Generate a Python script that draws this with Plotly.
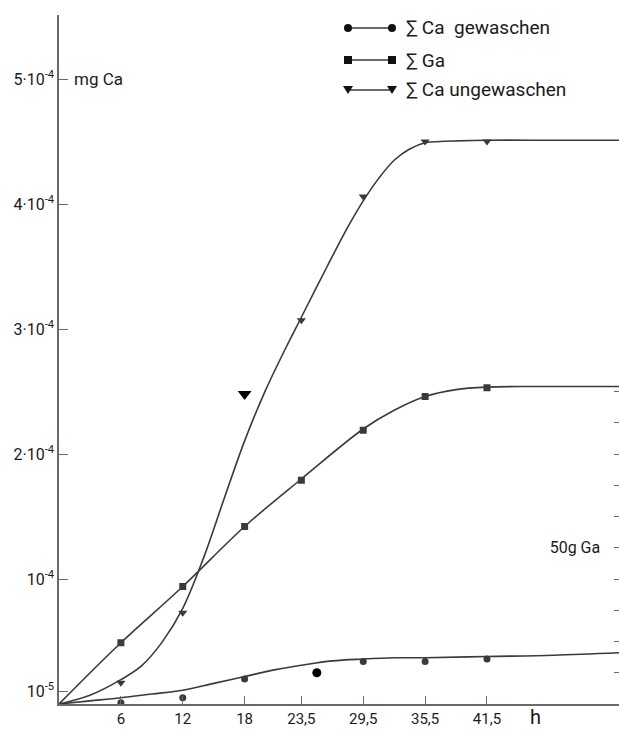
import plotly.graph_objects as go

# ---------------- data ----------------
hours = [6, 12, 18, 23.5, 29.5, 35.5, 41.5]
hour_labels = ["6", "12", "18", "23,5", "29,5", "35,5", "41,5"]

# measured points (mg Ca)
washed_hours = [6, 12, 18, 29.5, 35.5, 41.5]
washed_values = [0.01e-4, 0.05e-4, 0.20e-4, 0.34e-4, 0.34e-4, 0.36e-4]
washed_outlier_hour = [25]
washed_outlier_value = [0.25e-4]

ga_hours = [6, 12, 18, 23.5, 29.5, 35.5, 41.5]
ga_values = [0.49e-4, 0.94e-4, 1.42e-4, 1.79e-4, 2.19e-4, 2.46e-4, 2.53e-4]

unwashed_hours = [6, 12, 23.5, 29.5, 35.5, 41.5]
unwashed_values = [0.17e-4, 0.73e-4, 3.07e-4, 4.06e-4, 4.50e-4, 4.50e-4]
unwashed_outlier_hour = [18]
unwashed_outlier_value = [2.48e-4]

# drawn smooth curves
fit_w_hours = [0, 3, 6, 9, 12, 15, 18, 21, 23.5, 26.5, 29.5, 32.5, 35.5, 41.5, 48, 54.3]
fit_washed = [0, 0.025e-4, 0.05e-4, 0.08e-4, 0.11e-4, 0.165e-4, 0.22e-4, 0.275e-4,
              0.31e-4, 0.345e-4, 0.36e-4, 0.37e-4, 0.37e-4, 0.38e-4, 0.39e-4, 0.41e-4]

fit_g_hours = [0, 6, 12, 18, 23.5, 29.5, 32.5, 35.5, 38.5, 41.5, 46, 54.3]
fit_ga = [0, 0.49e-4, 0.94e-4, 1.42e-4, 1.80e-4, 2.20e-4, 2.35e-4, 2.46e-4,
          2.515e-4, 2.535e-4, 2.54e-4, 2.54e-4]

fit_u_hours = [0, 3, 6, 8, 10, 12, 14, 16, 18, 20, 22, 23.5, 26, 28, 29.5,
               31, 32.5, 34, 35.5, 37, 41.5, 48, 54.3]
fit_unwashed = [0, 0.07e-4, 0.195e-4, 0.305e-4, 0.495e-4, 0.765e-4, 1.165e-4, 1.64e-4,
                2.105e-4, 2.505e-4, 2.85e-4, 3.094e-4, 3.50e-4, 3.815e-4, 4.025e-4,
                4.205e-4, 4.35e-4, 4.44e-4, 4.49e-4, 4.50e-4, 4.51e-4, 4.51e-4, 4.51e-4]

y_tickvals = [1e-5, 1e-4, 2e-4, 3e-4, 4e-4, 5e-4]
y_ticktext = ["10<sup>-5</sup>", "10<sup>-4</sup>", "2·10<sup>-4</sup>",
              "3·10<sup>-4</sup>", "4·10<sup>-4</sup>", "5·10<sup>-4</sup>"]

ga_axis_ticks = [10, 20, 30, 40, 50, 60, 70, 80, 90, 100]
ga_axis_labels = ["", "", "", "", "50g Ga", "", "", "", "", ""]

legend_labels = ["∑ Ca  gewaschen", "∑ Ga", "∑ Ca ungewaschen"]

# ---------------- figure ----------------
W, H = 619, 729
ML, MR, MT, MB = 59, 0, 15, 25
PW, PH = W - ML - MR, H - MT - MB
FONT = "Roboto, 'DejaVu Sans', sans-serif"
LINE = "#3a3a3a"
MARK = "#3a3a3a"
AX = "#6a6a6a"

YMAX = PH / 125 * 1e-4      # 125 px per 1e-4
XMAX = PW / 10.313          # px per hour

fig = go.Figure()

for fx, fy in ((fit_w_hours, fit_washed), (fit_g_hours, fit_ga), (fit_u_hours, fit_unwashed)):
    fig.add_trace(go.Scatter(x=fx, y=fy, mode="lines",
                             line=dict(color=LINE, width=1.6, shape="spline", smoothing=1.0),
                             hoverinfo="skip", showlegend=False))

fig.add_trace(go.Scatter(x=washed_hours, y=washed_values, mode="markers",
                         marker=dict(symbol="circle", size=7, color=MARK), showlegend=False))
fig.add_trace(go.Scatter(x=washed_outlier_hour, y=washed_outlier_value, mode="markers",
                         marker=dict(symbol="circle", size=9, color="#000"), showlegend=False))
fig.add_trace(go.Scatter(x=ga_hours, y=ga_values, mode="markers",
                         marker=dict(symbol="square", size=7, color=MARK), showlegend=False))
fig.add_trace(go.Scatter(x=unwashed_hours, y=unwashed_values, mode="markers",
                         marker=dict(symbol="triangle-down", size=8, color=MARK), showlegend=False))
fig.add_trace(go.Scatter(x=unwashed_outlier_hour, y=unwashed_outlier_value, mode="markers",
                         marker=dict(symbol="triangle-down", size=12, color="#000"), showlegend=False))
# secondary axis carrier (invisible)
fig.add_trace(go.Scatter(x=[None], y=[None], yaxis="y2", showlegend=False))


def pxx(px):
    return (px - ML) / PW


def pxy(py):
    return (H - MB - py) / PH


shapes = []
annotations = []
rows = [28, 60, 90]
symbols = ["circle", "square", "triangle"]
for py, sym, lab in zip(rows, symbols, legend_labels):
    shapes.append(dict(type="line", xref="paper", yref="paper",
                       x0=pxx(348), x1=pxx(392), y0=pxy(py), y1=pxy(py),
                       line=dict(color=LINE, width=1.6)))
    for cx in (348, 392):
        if sym == "circle":
            shapes.append(dict(type="circle", xref="paper", yref="paper",
                               x0=pxx(cx - 4), x1=pxx(cx + 4), y0=pxy(py + 4), y1=pxy(py - 4),
                               fillcolor="#111", line=dict(width=0)))
        elif sym == "square":
            shapes.append(dict(type="rect", xref="paper", yref="paper",
                               x0=pxx(cx - 4), x1=pxx(cx + 4), y0=pxy(py + 4), y1=pxy(py - 4),
                               fillcolor="#111", line=dict(width=0)))
        else:
            path = "M {:.5f},{:.5f} L {:.5f},{:.5f} L {:.5f},{:.5f} Z".format(
                pxx(cx - 5), pxy(py - 4), pxx(cx + 5), pxy(py - 4), pxx(cx), pxy(py + 4))
            shapes.append(dict(type="path", xref="paper", yref="paper", path=path,
                               fillcolor="#111", line=dict(width=0)))
    annotations.append(dict(x=pxx(404), y=pxy(py), xref="paper", yref="paper",
                            text=lab, showarrow=False, xanchor="left", yanchor="middle",
                            font=dict(family=FONT, size=19, color="#1a1a1a")))

annotations.append(dict(x=pxx(72), y=5e-4, xref="paper", yref="y", text="mg Ca",
                        showarrow=False, xanchor="left", yanchor="middle",
                        font=dict(family=FONT, size=17, color="#1a1a1a")))
annotations.append(dict(x=pxx(535), y=pxy(717), xref="paper", yref="paper", text="h",
                        showarrow=False, xanchor="center", yanchor="middle",
                        font=dict(family=FONT, size=20, color="#1a1a1a")))

fig.update_layout(
    width=W, height=H,
    margin=dict(l=ML, r=MR, t=MT, b=MB, pad=0),
    paper_bgcolor="white", plot_bgcolor="white",
    font=dict(family=FONT, size=15, color="#1a1a1a"),
    shapes=shapes, annotations=annotations,
    xaxis=dict(range=[0, XMAX], tickvals=hours, ticktext=hour_labels,
               ticks="inside", ticklen=8, tickwidth=1.2, tickcolor=AX,
               showline=True, linecolor=AX, linewidth=1.5,
               showgrid=False, zeroline=False, fixedrange=True,
               tickfont=dict(family=FONT, size=15, color="#1a1a1a")),
    yaxis=dict(range=[0, YMAX], tickvals=y_tickvals, ticktext=y_ticktext,
               ticks="inside", ticklen=9, tickwidth=1.2, tickcolor=AX,
               showline=True, linecolor=AX, linewidth=1.5,
               showgrid=False, zeroline=False, fixedrange=True,
               tickfont=dict(family=FONT, size=16, color="#1a1a1a")),
    yaxis2=dict(overlaying="y", side="right", range=[0, YMAX / 1e-4 * 40],
                tickvals=ga_axis_ticks, ticktext=ga_axis_labels,
                ticks="inside", ticklen=5, tickwidth=1.2, tickcolor=AX,
                ticklabelposition="inside", ticklabelstandoff=14,
                showline=False, showgrid=False,
                zeroline=False, fixedrange=True,
                tickfont=dict(family=FONT, size=16, color="#1a1a1a")),
    showlegend=False,
)

fig.write_html("out.html", config={"displayModeBar": False},
               post_script="document.body.style.margin='0';document.body.style.overflow='hidden';")
